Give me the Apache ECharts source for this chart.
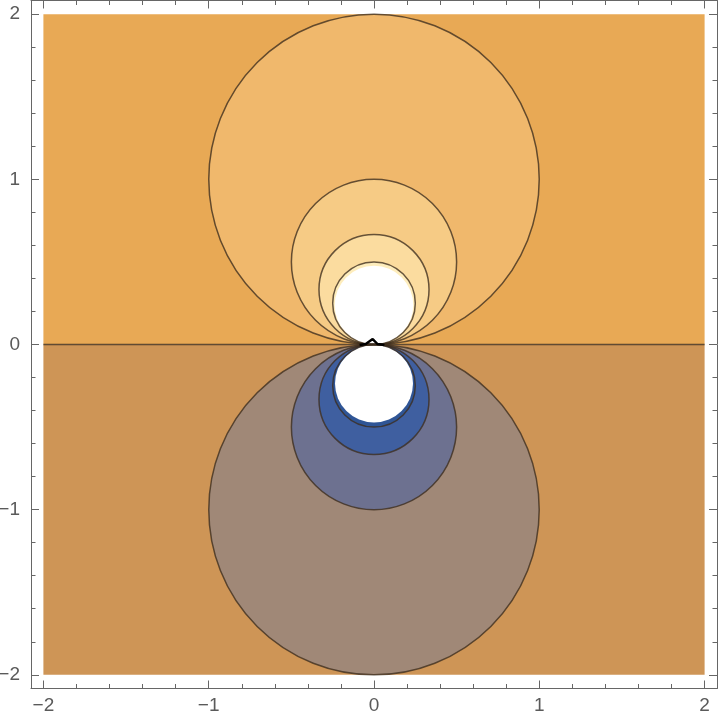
<!DOCTYPE html>
<html><head><meta charset="utf-8">
<script src="https://cdn.jsdelivr.net/npm/echarts@6/dist/echarts.min.js"></script>
<style>html,body{margin:0;padding:0;background:#fff}#c{width:720px;height:722px}</style>
</head><body><div id="c"></div><script>
// ---- data ----
const majorTicks = [-2, -1, 0, 1, 2];
const minorTicks = [-1.8, -1.6, -1.4, -1.2, -0.8, -0.6, -0.4, -0.2, 0.2, 0.4, 0.6, 0.8, 1.2, 1.4, 1.6, 1.8];
// half-plane regions [x0, y0, x1, y1]
const upperRegion = [-2, 0, 2, 2];
const lowerRegion = [-2, -2, 2, 0];
// contour circles [cx, cy, r], outermost first
const upperCircles = [[0, 1, 1], [0, 0.5, 0.5], [0, 0.333, 0.333], [0, 0.25, 0.25]];
const lowerCircles = [[0, -1, 1], [0, -0.5, 0.5], [0, -0.333, 0.333], [0, -0.25, 0.25]];
// clipped (out of plot range) regions [cx, cy, r]
const holes = [[0, 0.238, 0.238], [0, -0.236, 0.236]];
// zero contour
const zeroLine = [[-2, 0], [2, 0]];
// small artefact at the origin
const notch = [[-0.087, -0.003], [-0.05, 0.003], [-0.008, 0.033], [0.021, 0.003], [0.063, -0.003]];

// ---- styles ----
const upperBg = '#E8A955', lowerBg = '#CE9556';
const upperFills = ['#F0B86C', '#F6CB85', '#FBDC9F', '#FEEDBC'];
const lowerFills = ['#A08877', '#6D7190', '#3F5FA0', '#2F5596'];
const lineCol = 'rgba(60,45,30,0.78)';
const axisCol = '#666';
const AX = 2.075, AY = 2.083;

function circleItem(fills, withFill, withStroke) {
  return function (params, api) {
    const c = api.coord([api.value(0), api.value(1)]);
    const s = api.size([api.value(2), api.value(2)]);
    const r = (s[0] + s[1]) / 2;
    return {
      type: 'circle',
      shape: { cx: c[0], cy: c[1], r: r },
      style: {
        fill: withFill ? fills[params.dataIndex] : 'none',
        stroke: withStroke ? lineCol : 'none',
        lineWidth: 1.5
      }
    };
  };
}
function rectItem(fill) {
  return function (params, api) {
    const p0 = api.coord([api.value(0), api.value(3)]);
    const p1 = api.coord([api.value(2), api.value(1)]);
    return { type: 'rect', shape: { x: p0[0], y: p0[1], width: p1[0] - p0[0], height: p1[1] - p0[1] }, style: { fill: fill } };
  };
}
const fmt = v => (v < 0 ? '\u2212' + Math.abs(v) : String(v));
const labelStyle = { color: '#5a5a5a', fontSize: 19, fontFamily: 'Liberation Sans, Arial, sans-serif' };

function xAx(pos, major, labels) {
  return {
    type: 'value', position: pos, min: -AX, max: AX, gridIndex: 0,
    axisLine: { show: major, onZero: false, lineStyle: { color: axisCol, width: 1 } },
    axisTick: { show: true, inside: true, length: major ? 8 : 4.5, customValues: major ? majorTicks : minorTicks, lineStyle: { color: axisCol, width: 1 } },
    axisLabel: labels ? Object.assign({ show: true, customValues: majorTicks, formatter: fmt, margin: 8 }, labelStyle) : { show: false },
    splitLine: { show: false }
  };
}
function yAx(pos, major, labels) {
  return {
    type: 'value', position: pos, min: -AY, max: AY, gridIndex: 0,
    axisLine: { show: major, onZero: false, lineStyle: { color: axisCol, width: 1 } },
    axisTick: { show: true, inside: true, length: major ? 8 : 4.5, customValues: major ? majorTicks : minorTicks, lineStyle: { color: axisCol, width: 1 } },
    axisLabel: labels ? Object.assign({ show: true, customValues: majorTicks, formatter: fmt, margin: 11 }, labelStyle) : { show: false },
    splitLine: { show: false }
  };
}

const chart = echarts.init(document.getElementById('c'), null, { renderer: 'canvas' });
chart.setOption({
  animation: false,
  backgroundColor: '#fff',
  grid: { left: 31, right: 3, top: 0.5, bottom: 33.5, containLabel: false, outerBoundsMode: 'none' },
  xAxis: [xAx('bottom', true, true), xAx('bottom', false, false), xAx('top', true, false), xAx('top', false, false)],
  yAxis: [yAx('left', true, true), yAx('left', false, false), yAx('right', true, false), yAx('right', false, false)],
  series: [
    { type: 'custom', renderItem: rectItem(upperBg), data: [upperRegion], encode: { x: [0, 2], y: [1, 3] }, silent: true },
    { type: 'custom', renderItem: rectItem(lowerBg), data: [lowerRegion], encode: { x: [0, 2], y: [1, 3] }, silent: true },
    { type: 'custom', renderItem: circleItem(upperFills, true, false), data: upperCircles, encode: { x: 0, y: 1 }, silent: true },
    { type: 'custom', renderItem: circleItem(lowerFills, true, false), data: lowerCircles, encode: { x: 0, y: 1 }, silent: true },
    { type: 'custom', renderItem: circleItem(['#fff', '#fff'], true, false), data: holes, encode: { x: 0, y: 1 }, silent: true },
    { type: 'custom', renderItem: circleItem(upperFills, false, true), data: upperCircles, encode: { x: 0, y: 1 }, silent: true },
    { type: 'custom', renderItem: circleItem(lowerFills, false, true), data: lowerCircles, encode: { x: 0, y: 1 }, silent: true },
    { type: 'line', data: zeroLine, symbol: 'none', lineStyle: { color: lineCol, width: 1.5 }, silent: true },
    { type: 'line', data: notch, symbol: 'none', lineStyle: { color: '#000', width: 2.5 }, silent: true }
  ]
});
</script></body></html>
